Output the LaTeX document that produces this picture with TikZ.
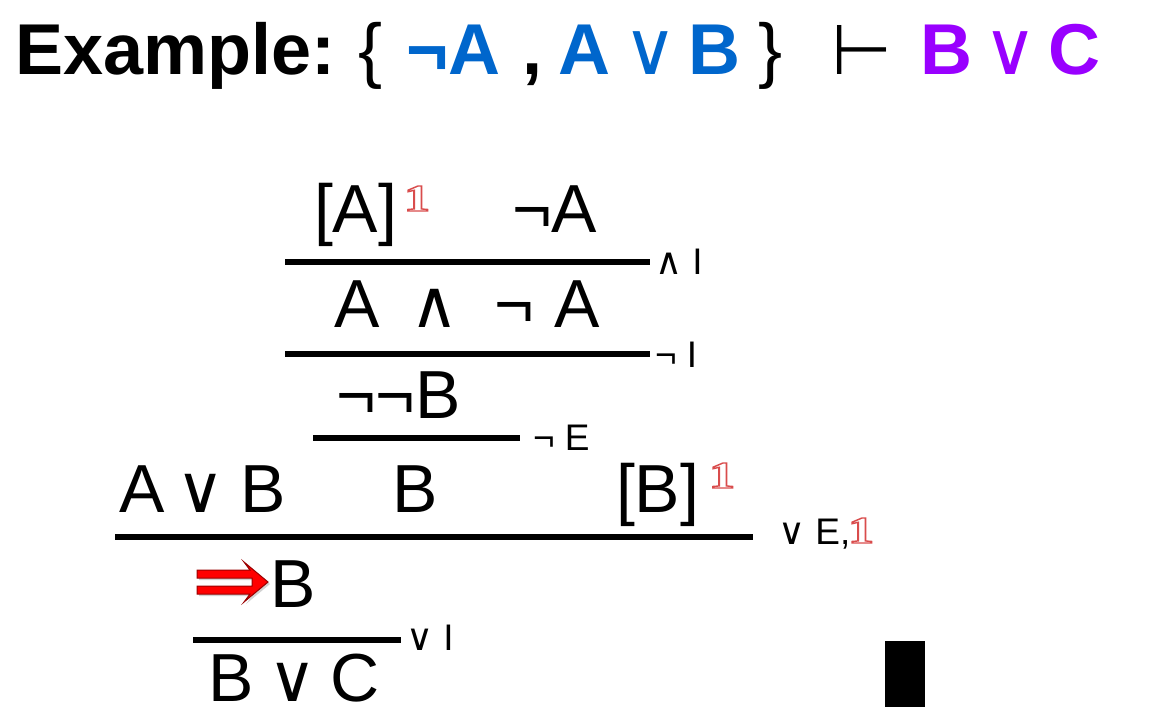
\documentclass[tikz,border=0pt]{standalone}
\usepackage{fontspec}
\usepackage{graphicx}
\setmainfont{Liberation Sans}
\newfontfamily\dv{DejaVu Sans}
\newfontfamily\lserif{Liberation Serif}
\usetikzlibrary{shadows}
\definecolor{myblue}{HTML}{0066CC}
\definecolor{mypurple}{HTML}{9900FF}
\newcommand\outone{{\color{white}\special{pdf:literal direct 2 Tr 1.3 w 0.85 0.3 0.3 RG}\scalebox{1.45}[1.05]{1}\special{pdf:literal direct 0 Tr 0 G}}}
\tikzset{
  t/.style={anchor=base west, inner sep=0pt, outer sep=0pt},
  big/.style={t, font=\fontsize{68}{68}\selectfont},
  bigop/.style={t, font=\fontsize{66}{66}\selectfont\dv},
  lab/.style={t, font=\fontsize{37}{37}\selectfont},
  ttl/.style={t, font=\fontsize{72}{72}\selectfont\bfseries},
  ttlop/.style={t, font=\fontsize{74}{74}\selectfont\dv},
  mk/.style={t, font=\fontsize{36}{36}\selectfont\lserif\bfseries},
  bar/.style={line width=6.5pt},
}
\begin{document}
\begin{tikzpicture}[x=1pt,y=-1pt]
\useasboundingbox[fill=white] (0,0) rectangle (1172,716);
% title
\node[ttl] (ex) at (15,74) {Example:};
\node[t, font=\fontsize{72}{72}\selectfont] (lb) at (358,74) {\{};
\node[ttl, text=myblue] (na) at (406,74) {¬A};
\node[ttl] (cm) at (522,74) {,};
\node[ttl, text=myblue] (a1) at (558,74) {A};
\node[ttlop, text=myblue] (or1) at (623,74) {∨};
\node[ttl, text=myblue] (b1) at (688,74) {B};
\node[t, font=\fontsize{72}{72}\selectfont] (rb) at (758,74) {\}};
\node[t, font=\fontsize{70}{70}\selectfont\dv] (tu) at (831,74) {⊢};
\node[ttl, text=mypurple] (b2) at (920,74) {B};
\node[ttlop, text=mypurple] (or2) at (983,74) {∨};
\node[ttl, text=mypurple] (c2) at (1048,74) {C};
% row 1
\node[big] (A1) at (314,232) {[A]};
\node[mk] (m1) at (404,211) {\outone};
\node[big] (nA) at (512,232) {¬A};
\draw[bar] (285,262) -- (650,262);
\node[lab] (l1) at (655,274) {{\dv ∧} I};
% row 2
\node[big] (c1) at (334,327) {A};
\node[bigop] (c2) at (410,327) {∧};
\node[big] (c3) at (494,327) {¬};
\node[big] (c4) at (554,327) {A};
\draw[bar] (285,354) -- (650,354);
\node[lab] (l2) at (655,367) {¬ I};
% row 3
\node[big] (nnB) at (336,418) {¬¬B};
\draw[bar] (313,438) -- (520,438);
\node[lab] (l3) at (533,450) {¬ E};
% row 4
\node[big] (AvB1) at (119,512) {A};
\node[bigop] (AvB2) at (176,512) {∨};
\node[big] (AvB3) at (240,512) {B};
\node[big] (B1) at (392,512) {B};
\node[big] (Bd) at (616,512) {[B]};
\node[mk] (m2) at (709,488) {\outone};
\draw[bar] (115,537) -- (753,537);
\node[lab] (l4) at (778,544) {{\dv ∨} E,};
\node[mk] (m3) at (848,543) {\outone};
% row 5
\fill[red, draw=red!60!black, line width=1pt, drop shadow={opacity=0.35, shadow xshift=2pt, shadow yshift=-2pt}]
  (197,570) -- (250,570) -- (244,562) -- (268,582) -- (244,602) -- (250,594) -- (197,594) -- (197,586) -- (252,586) -- (252,578) -- (197,578) -- cycle;
\node[big] (B2) at (270,607) {B};
\draw[bar] (193,640) -- (401,640);
\node[lab] (l5) at (406,650) {{\dv ∨} I};
\node[big] (v1) at (208,701) {B};
\node[bigop] (v2) at (268,701) {∨};
\node[big] (v3) at (330,701) {C};
% end mark
\fill (885,641) rectangle (925,707);
\end{tikzpicture}
\end{document}
